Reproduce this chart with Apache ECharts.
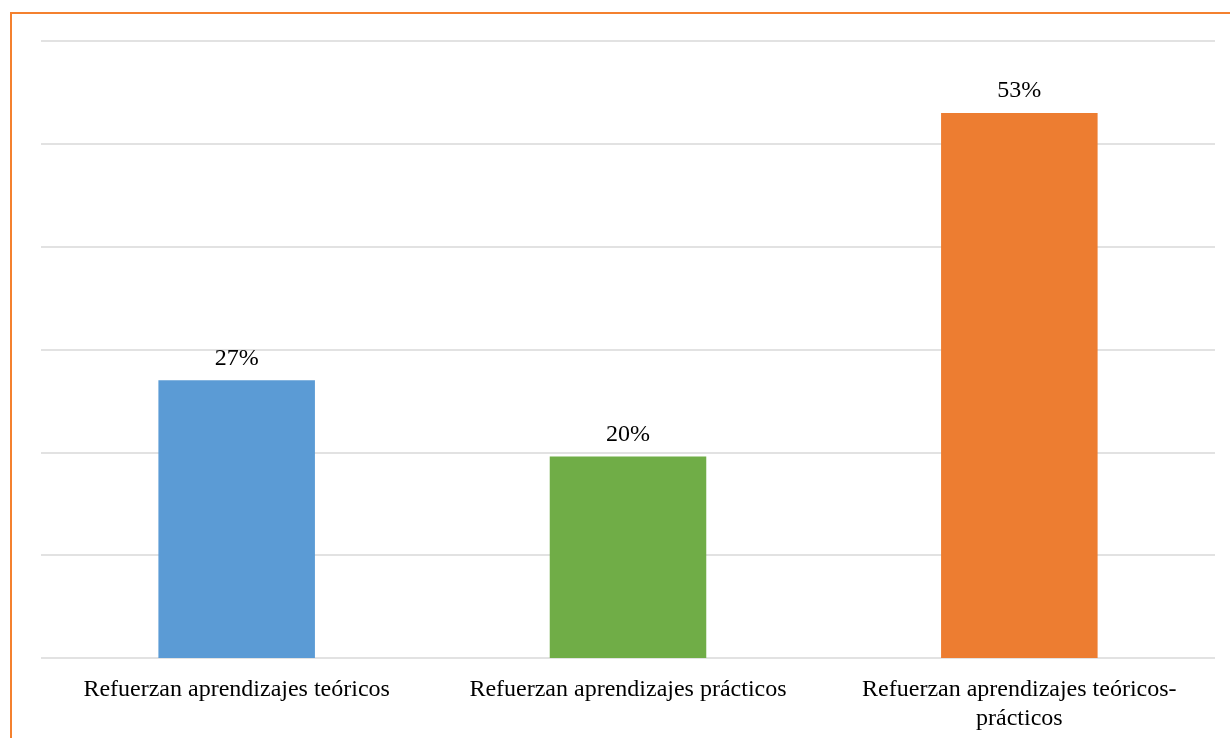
<!DOCTYPE html>
<html>
<head>
<meta charset="utf-8">
<script src="https://cdn.jsdelivr.net/npm/echarts@6/dist/echarts.min.js"></script>
<style>
  html, body { margin: 0; padding: 0; background: #fff; }
  #chart { width: 1230px; height: 738px; }
</style>
</head>
<body>
<div id="chart"></div>
<script>
// categorías y valores (%)
const categories = [
  'Refuerzan aprendizajes teóricos',
  'Refuerzan aprendizajes prácticos',
  'Refuerzan aprendizajes teóricos-\nprácticos'
]
const values = [27, 19.6, 53]
const barColors = ['#5B9BD5', '#70AD47', '#ED7D31']

const myChart = echarts.init(document.getElementById('chart'))
const option = {
  backgroundColor: '#fff',
  animation: false,
  textStyle: { fontFamily: 'Liberation Serif' },
  graphic: [
    {
      type: 'polyline',
      shape: { points: [[11, 738], [11, 13], [1230, 13]] },
      style: { stroke: '#F4812F', lineWidth: 2, fill: null }
    }
  ],
  grid: { left: 41, right: 15, top: 41, bottom: 80 },
  xAxis: {
    type: 'category',
    data: categories,
    axisLine: { show: false },
    axisTick: { show: false },
    axisLabel: {
      interval: 0,
      hideOverlap: false,
      color: '#000',
      fontSize: 24,
      fontFamily: 'Liberation Serif',
      margin: 17,
      lineHeight: 29
    }
  },
  yAxis: {
    type: 'value',
    min: 0,
    max: 60,
    interval: 10,
    axisLabel: { show: false },
    axisLine: { show: false },
    axisTick: { show: false },
    splitLine: { lineStyle: { color: '#d9d9d9', width: 1.5 } }
  },
  series: [
    {
      type: 'bar',
      barWidth: '40%',
      data: values.map((v, i) => ({ value: v, itemStyle: { color: barColors[i] } })),
      label: {
        show: true,
        position: 'top',
        distance: 10,
        color: '#000',
        fontSize: 24,
        fontFamily: 'Liberation Serif',
        formatter: (p) => Math.round(p.value) + '%'
      }
    }
  ]
}
myChart.setOption(option)
</script>
</body>
</html>
